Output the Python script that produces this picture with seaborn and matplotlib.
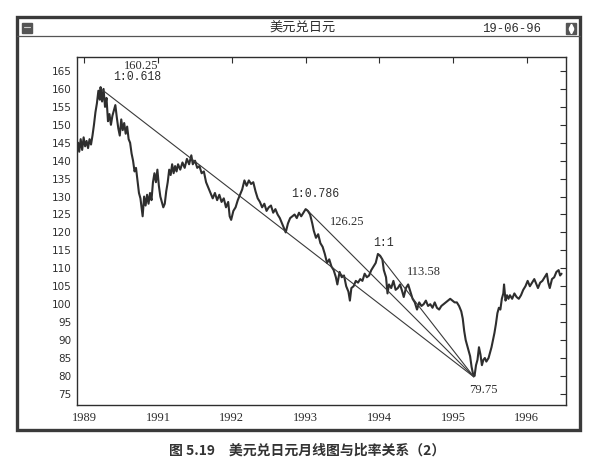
import matplotlib
matplotlib.use("Agg")
import matplotlib.pyplot as plt
from matplotlib.patches import Rectangle
from matplotlib.lines import Line2D
import pandas as pd
import seaborn as sns

sns.set_style("white")
plt.rcParams['font.family'] = ['DejaVu Sans', 'Noto Sans CJK SC']

# --- data (time in fractional years, price in yen) ---
years = [
    1989.915, 1989.93, 1989.95, 1989.97, 1989.99, 1990.01, 1990.03, 1990.05, 1990.07, 1990.09,
    1990.11, 1990.13, 1990.15, 1990.17, 1990.19, 1990.21, 1990.22, 1990.24, 1990.26, 1990.28,
    1990.30, 1990.32, 1990.34, 1990.36, 1990.38, 1990.40, 1990.42, 1990.44, 1990.46, 1990.48,
    1990.50, 1990.52, 1990.54, 1990.56, 1990.58, 1990.60, 1990.62, 1990.64, 1990.66, 1990.68,
    1990.70, 1990.72, 1990.74, 1990.76, 1990.78, 1990.79, 1990.81, 1990.83, 1990.85, 1990.87,
    1990.89, 1990.91, 1990.93, 1990.95, 1990.97, 1990.99, 1991.01, 1991.03, 1991.05, 1991.07,
    1991.09, 1991.11, 1991.13, 1991.15, 1991.17, 1991.19, 1991.21, 1991.23, 1991.25, 1991.27,
    1991.30, 1991.33, 1991.36, 1991.39, 1991.42, 1991.45, 1991.47, 1991.50, 1991.53, 1991.56,
    1991.59, 1991.62, 1991.65, 1991.68, 1991.71, 1991.74, 1991.77, 1991.80, 1991.83, 1991.86,
    1991.89, 1991.92, 1991.95, 1991.97, 1991.99, 1992.02, 1992.05, 1992.08, 1992.11, 1992.14,
    1992.17, 1992.20, 1992.23, 1992.26, 1992.29, 1992.32, 1992.35, 1992.38, 1992.41, 1992.44,
    1992.47, 1992.50, 1992.53, 1992.56, 1992.59, 1992.62, 1992.65, 1992.68, 1992.71, 1992.73,
    1992.76, 1992.79, 1992.82, 1992.85, 1992.88, 1992.91, 1992.94, 1992.97, 1993.00, 1993.03,
    1993.06, 1993.09, 1993.11, 1993.14, 1993.17, 1993.20, 1993.23, 1993.26, 1993.29, 1993.32,
    1993.35, 1993.38, 1993.41, 1993.43, 1993.46, 1993.49, 1993.52, 1993.55, 1993.58, 1993.60,
    1993.62, 1993.65, 1993.68, 1993.71, 1993.74, 1993.77, 1993.80, 1993.83, 1993.86, 1993.89,
    1993.92, 1993.95, 1993.98, 1994.01, 1994.04, 1994.06, 1994.09, 1994.11, 1994.13, 1994.16,
    1994.19, 1994.22, 1994.25, 1994.28, 1994.31, 1994.33, 1994.36, 1994.39, 1994.42, 1994.45,
    1994.48, 1994.51, 1994.54, 1994.57, 1994.60, 1994.63, 1994.66, 1994.69, 1994.72, 1994.75,
    1994.78, 1994.81, 1994.84, 1994.87, 1994.90, 1994.93, 1994.96, 1994.99, 1995.02, 1995.05,
    1995.08, 1995.11, 1995.13, 1995.15, 1995.17, 1995.19, 1995.21, 1995.23, 1995.25, 1995.27,
    1995.29, 1995.31, 1995.33, 1995.35, 1995.37, 1995.39, 1995.41, 1995.43, 1995.45, 1995.48,
    1995.50, 1995.52, 1995.54, 1995.56, 1995.58, 1995.60, 1995.62, 1995.64, 1995.66, 1995.68,
    1995.69, 1995.71, 1995.73, 1995.75, 1995.77, 1995.80, 1995.83, 1995.86, 1995.89, 1995.92,
    1995.95, 1995.98, 1996.01, 1996.04, 1996.07, 1996.10, 1996.13, 1996.15, 1996.18, 1996.21,
    1996.24, 1996.27, 1996.29, 1996.31, 1996.34, 1996.37, 1996.40, 1996.43, 1996.45, 1996.47,
]
prices = [
    145.0, 142.5, 146.0, 143.0, 146.5, 144.0, 145.5, 143.5, 146.0, 144.5,
    147.0, 150.0, 153.5, 156.0, 159.5, 157.0, 160.5, 156.5, 160.0, 155.0,
    157.5, 151.0, 153.0, 150.0, 152.5, 154.0, 155.5, 152.0, 149.0, 147.0,
    151.5, 148.5, 150.5, 147.5, 149.5, 146.0, 145.0, 142.0, 140.0, 137.0,
    138.0, 134.5, 131.0, 129.5, 126.0, 124.5, 130.0, 127.5, 130.5, 128.0,
    131.0, 129.0, 134.0, 136.5, 134.0, 137.5, 133.0, 130.0, 128.5, 127.0,
    128.0, 131.5, 134.0, 137.5, 136.0, 139.0, 136.5, 138.5, 137.0, 139.0,
    137.5, 139.5, 138.0, 140.5, 139.0, 141.5, 139.0, 140.0, 138.0, 138.5,
    136.5, 137.0, 134.0, 132.5, 131.0, 129.5, 131.0, 129.0, 130.5, 128.5,
    129.5, 127.0, 128.5, 124.5, 123.5, 126.0, 127.0, 129.0, 130.5, 132.0,
    134.5, 133.0, 134.5, 133.5, 134.0, 131.5, 129.5, 128.5, 127.0, 128.0,
    126.0, 127.0, 127.5, 125.5, 126.5, 125.0, 124.0, 122.5, 121.0, 120.0,
    122.5, 124.0, 124.5, 125.0, 124.0, 125.5, 124.5, 125.5, 126.5, 126.0,
    125.0, 122.5, 120.5, 118.5, 119.5, 117.0, 116.0, 114.0, 111.5, 112.5,
    110.5, 109.5, 107.5, 105.5, 109.0, 107.5, 108.0, 105.0, 103.5, 101.0,
    104.5, 105.0, 106.5, 106.0, 107.0, 106.5, 108.5, 107.5, 108.0, 109.5,
    110.5, 111.5, 114.0, 113.5, 112.5, 109.5, 107.5, 103.0, 105.5, 104.5,
    106.5, 104.0, 104.5, 105.5, 103.5, 102.0, 104.5, 105.5, 103.5, 101.5,
    100.5, 98.5, 100.5, 99.5, 100.0, 101.0, 99.5, 100.0, 99.0, 100.5,
    99.0, 98.5, 99.5, 100.0, 100.5, 101.0, 101.5, 101.0, 100.5, 100.5,
    99.5, 98.0, 96.0, 92.5, 90.0, 88.5, 87.0, 85.5, 82.5, 80.5,
    80.0, 83.0, 84.5, 88.0, 86.0, 83.0, 84.5, 85.0, 84.0, 85.0,
    86.5, 88.0, 90.0, 92.0, 94.5, 97.5, 99.0, 98.5, 101.5, 103.0,
    105.5, 101.0, 102.5, 101.5, 102.5, 101.5, 103.0, 102.0, 101.5, 102.5,
    104.0, 105.0, 106.5, 105.0, 106.0, 107.0, 105.5, 104.5, 106.0, 106.5,
    107.5, 108.5, 106.0, 104.5, 107.0, 107.5, 109.0, 109.5, 108.0, 108.5,
]

# fan lines: each swing high joined to the 1995 low
pivot_years = [1990.21, 1993.02, 1994.00]
pivot_prices = [160.25, 126.25, 113.58]
low_year = 1995.28
low_price = 79.75
ratio_labels = ["1:0.618", "1:0.786", "1:1"]
value_labels = ["160.25", "126.25", "113.58", "79.75"]

x_tick_pos = [1990, 1991, 1992, 1993, 1994, 1995, 1996]
x_tick_labels = ["1989", "1991", "1992", "1993", "1994", "1995", "1996"]
y_ticks = list(range(75, 170, 5))

W, H = 610, 469
ink = "#2e2e2e"


def fx(px):
    return px / W


def fy(py):
    return 1 - py / H


fig = plt.figure(figsize=(6.1, 4.69), dpi=100)
ax = fig.add_axes([fx(77), fy(405), fx(566) - fx(77), fy(57) - fy(405)])

df = pd.DataFrame({"year": years, "price": prices})
sns.lineplot(data=df, x="year", y="price", ax=ax, color=ink, lw=1.5,
             estimator=None, sort=False)

for py_, pp in zip(pivot_years, pivot_prices):
    fan = pd.DataFrame({"year": [py_, low_year], "price": [pp, low_price]})
    sns.lineplot(data=fan, x="year", y="price", ax=ax, color="#3a3a3a",
                 lw=0.8, estimator=None, sort=False)

ax.set_xlim(1989.9, 1996.53)
ax.set_ylim(71.9, 168.9)
ax.set_xlabel("")
ax.set_ylabel("")
ax.set_xticks(x_tick_pos)
ax.set_xticklabels(x_tick_labels, family="Liberation Serif", fontsize=9)
ax.set_yticks(y_ticks)
ax.set_yticklabels([str(v) for v in y_ticks], family="DejaVu Sans", fontsize=7.5)
ax.tick_params(axis="both", direction="in", length=4, width=0.8, color=ink,
               top=True, right=True, labelcolor=ink)
ax.tick_params(axis="x", pad=5)
ax.tick_params(axis="y", pad=4)
for s in ax.spines.values():
    s.set_color(ink)
    s.set_linewidth(1.0)

# annotations (label positions in data units)
ratio_pos = [(1990.72, 163.4), (1993.135, 130.6), (1994.06, 117.0)]
value_pos = [(1990.77, 166.4), (1993.56, 122.95), (1994.61, 108.9), (1995.41, 76.0)]
for txt, (xx, yy) in zip(ratio_labels, ratio_pos):
    ax.text(xx, yy, txt, family="Liberation Mono", fontsize=8.3, color=ink,
            ha="center", va="center")
for txt, (xx, yy) in zip(value_labels, value_pos):
    ax.text(xx, yy, txt, family="Liberation Serif", fontsize=9, color=ink,
            ha="center", va="center")

# window frame around the chart
frame = Rectangle((fx(17), fy(430)), fx(580) - fx(17), fy(17) - fy(430),
                  transform=fig.transFigure, fill=False, ec="#3a3a3a", lw=2.4)
fig.add_artist(frame)
fig.add_artist(Line2D([fx(17), fx(580)], [fy(36), fy(36)],
                      transform=fig.transFigure, color="#555555", lw=0.9))
fig.add_artist(Rectangle((fx(21.5), fy(33)), fx(10), fy(23) - fy(33),
                         transform=fig.transFigure, color="#555555"))
fig.add_artist(Line2D([fx(23.5), fx(29.5)], [fy(27.5), fy(27.5)],
                      transform=fig.transFigure, color="#cccccc", lw=0.8))
fig.add_artist(Rectangle((fx(566), fy(34)), fx(10), fy(23) - fy(34),
                         transform=fig.transFigure, color="#555555"))
fig.add_artist(Line2D([fx(571)], [fy(26.3)], transform=fig.transFigure,
                      marker="^", ms=3.2, color="white", lw=0))
fig.add_artist(Line2D([fx(571)], [fy(30.7)], transform=fig.transFigure,
                      marker="v", ms=3.2, color="white", lw=0))

fig.text(fx(303), fy(28), "美元兑日元", family=["Noto Sans CJK SC", "DejaVu Sans"],
         fontsize=9.5, color=ink, ha="center", va="center")
fig.text(fx(512), fy(29), "19-06-96", family="Liberation Mono", fontsize=8.8,
         color=ink, ha="center", va="center")
fig.text(fx(307), fy(450.5), "图 5.19　美元兑日元月线图与比率关系（2）",
         family=["Noto Sans CJK SC", "DejaVu Sans"], fontsize=10, weight="bold",
         color="#333333", ha="center", va="center")

fig.savefig("out.png", dpi=100, facecolor="white")
